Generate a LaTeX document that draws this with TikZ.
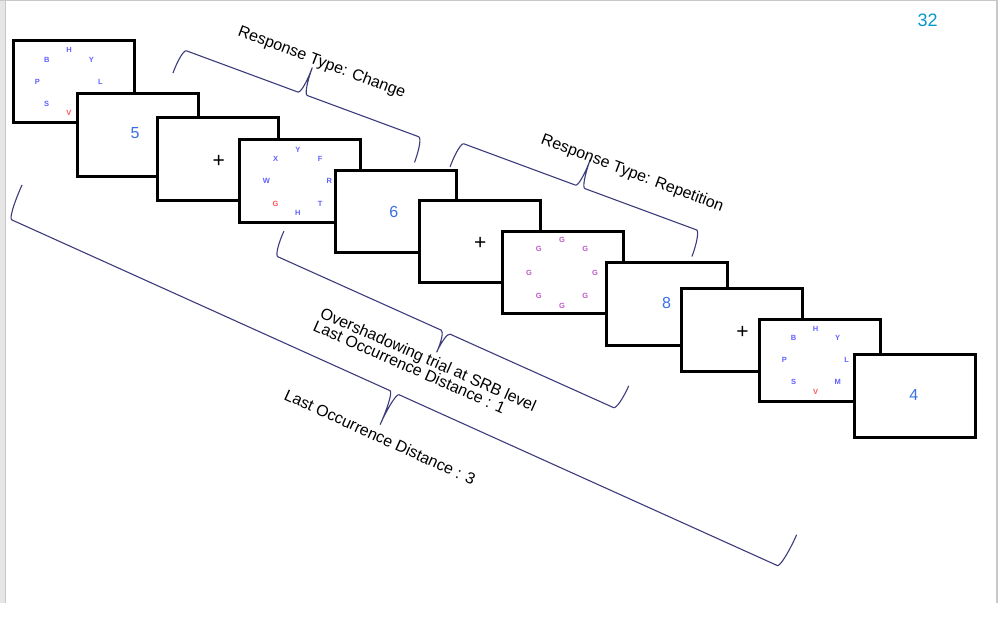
\documentclass[tikz,border=0pt]{standalone}
\usepackage{fontspec}
\setmainfont{Liberation Sans}
\usetikzlibrary{calc}

\definecolor{letterblue}{RGB}{96,96,255}
\definecolor{letterred}{RGB}{255,85,85}
\definecolor{letterpurple}{RGB}{190,90,200}
\definecolor{digitblue}{RGB}{58,110,230}
\definecolor{pageno}{RGB}{0,153,204}
\definecolor{bracecol}{RGB}{60,60,125}
\definecolor{framegray}{RGB}{200,200,200}
\definecolor{sidegray}{RGB}{230,230,230}

\tikzset{
  screen/.style={draw=black, fill=white, line width=3pt, minimum width=121pt,
    minimum height=82.5pt, inner sep=0pt, outer sep=0pt},
  digit/.style={text=digitblue, font=\fontsize{16}{16}\selectfont, inner sep=0pt},
  fixation/.style={text=black, font=\fontsize{21}{21}\selectfont, inner sep=0pt},
  letter/.style={font=\fontsize{7.5}{7.5}\selectfont\bfseries, inner sep=0pt},
  bracepen/.style={draw=bracecol, line width=1.1pt},
  bracetext/.style={font=\fontsize{16}{16}\selectfont, inner sep=0pt, anchor=base west},
}

% curly brace: #1 origin, #2 angle, #3 length, #4 offset of both ends, #5 offset of tip
\newcommand{\trialbrace}[5]{%
  \begin{scope}[shift={#1}, rotate=#2]
    \draw[bracepen] (0,#4) .. controls (0,{0.45*(#4)}) and (2.2,0) .. (5,0)
      -- ({#3/2-5},0) .. controls ({#3/2-2.2},0) and ({#3/2},{0.45*(#5)}) .. ({#3/2},#5)
      .. controls ({#3/2},{0.45*(#5)}) and ({#3/2+2.2},0) .. ({#3/2+5},0)
      -- ({#3-5},0) .. controls ({#3-2.2},0) and (#3,{0.45*(#4)}) .. (#3,#4);
  \end{scope}}

% letters set on a ring: #1 ring centre, #2 radius, #3 name prefix, #4 angle/letter/colour list
\newcommand{\letterring}[4]{%
  \foreach \a/\t/\c [count=\k] in {#4} {
    \node[letter, text=\c] (#3-\k) at ($(#1)+(\a:#2)$) {\t};
  }}

\begin{document}
\begin{tikzpicture}[x=1pt, y=-1pt]
  \useasboundingbox (0,0) rectangle (1008,630);
  \fill[white] (0,0) rectangle (1008,630);

  % page frame
  \fill[sidegray] (0,0) rectangle (5,603);
  \draw[framegray, line width=1pt] (5.5,0) -- (5.5,603);
  \draw[framegray, line width=1pt] (0,0.5) -- (998,0.5);
  \draw[framegray, line width=2pt] (997,0) -- (997,603);

  \node[text=pageno, font=\fontsize{18}{18}\selectfont, inner sep=0pt] (pagenum) at (927.5,20) {32};

  % trial sequence
  \node[screen] (s1) at (74,81.65) {};
  \coordinate (r1) at ($(s1.center)+(-5,0.2)$);
  \letterring{r1}{31.5}{l1}{270/H/letterblue, 315/Y/letterblue, 0/L/letterblue,
    90/V/letterred, 135/S/letterblue, 180/P/letterblue, 225/B/letterblue}

  \node[screen] (s2) at (138.15,134.8) {};
  \node[digit] (d2) at ($(s2.center)+(-3,-2)$) {5};

  \node[screen] (s3) at (218.45,158.9) {};
  \node[fixation] (f3) at ($(s3.center)+(0.3,2.6)$) {+};

  \node[screen] (s4) at (299.85,180.8) {};
  \coordinate (r4) at ($(s4.center)+(-2,0.5)$);
  \letterring{r4}{31.5}{l4}{270/Y/letterblue, 315/F/letterblue, 0/R/letterblue,
    45/T/letterblue, 90/H/letterblue, 135/G/letterred, 180/W/letterblue, 225/X/letterblue}

  \node[screen] (s5) at (396.3,211.35) {};
  \node[digit] (d5) at ($(s5.center)+(-2.5,0.3)$) {6};

  \node[screen] (s6) at (480,241.5) {};
  \node[fixation] (f6) at ($(s6.center)+(0.3,2.2)$) {+};

  \node[screen] (s7) at (563,272.35) {};
  \coordinate (r7) at ($(s7.center)+(-1,0.3)$);
  \letterring{r7}{33}{l7}{270/G/letterpurple, 315/G/letterpurple, 0/G/letterpurple,
    45/G/letterpurple, 90/G/letterpurple, 135/G/letterpurple, 180/G/letterpurple,
    225/G/letterpurple}

  \node[screen] (s8) at (667.15,304.15) {};
  \node[digit] (d8) at ($(s8.center)+(-0.5,-0.8)$) {8};

  \node[screen] (s9) at (742.2,329.85) {};
  \node[fixation] (f9) at ($(s9.center)+(0.3,2.2)$) {+};

  \node[screen] (s10) at (820.15,360.3) {};
  \coordinate (r10) at ($(s10.center)+(-4.6,0)$);
  \letterring{r10}{31.2}{l10}{270/H/letterblue, 315/Y/letterblue, 0/L/letterblue,
    45/M/letterblue, 90/V/letterred, 135/S/letterblue, 180/P/letterblue, 225/B/letterblue}

  \node[screen] (s11) at (914.65,396) {};
  \node[digit] (d11) at ($(s11.center)+(-0.8,-0.8)$) {4};

  % braces
  \trialbrace{(181.8,49.1)}{-20.3}{257.6}{25.5}{-28}
  \trialbrace{(459.2,142.1)}{-20.3}{258}{26.5}{-29.5}
  \trialbrace{(273.3,254.7)}{-24.2}{378}{-26}{22}
  \trialbrace{(7.2,217.8)}{-24.3}{850}{-36}{35}

  % brace captions
  \node[bracetext, rotate=-20.8] (t1) at (237,35) {Response Type: Change};
  \node[bracetext, rotate=-20.7] (t2) at (540,143) {Response Type: Repetition};
  \node[bracetext, rotate=-23.8] (t3a) at (319,317) {Overshadowing trial at SRB level};
  \node[bracetext, rotate=-23.8] (t3b) at (312,330) {Last Occurrence Distance : 1};
  \node[bracetext, rotate=-24.5] (t4) at (283,399) {Last Occurrence Distance : 3};
\end{tikzpicture}
\end{document}
